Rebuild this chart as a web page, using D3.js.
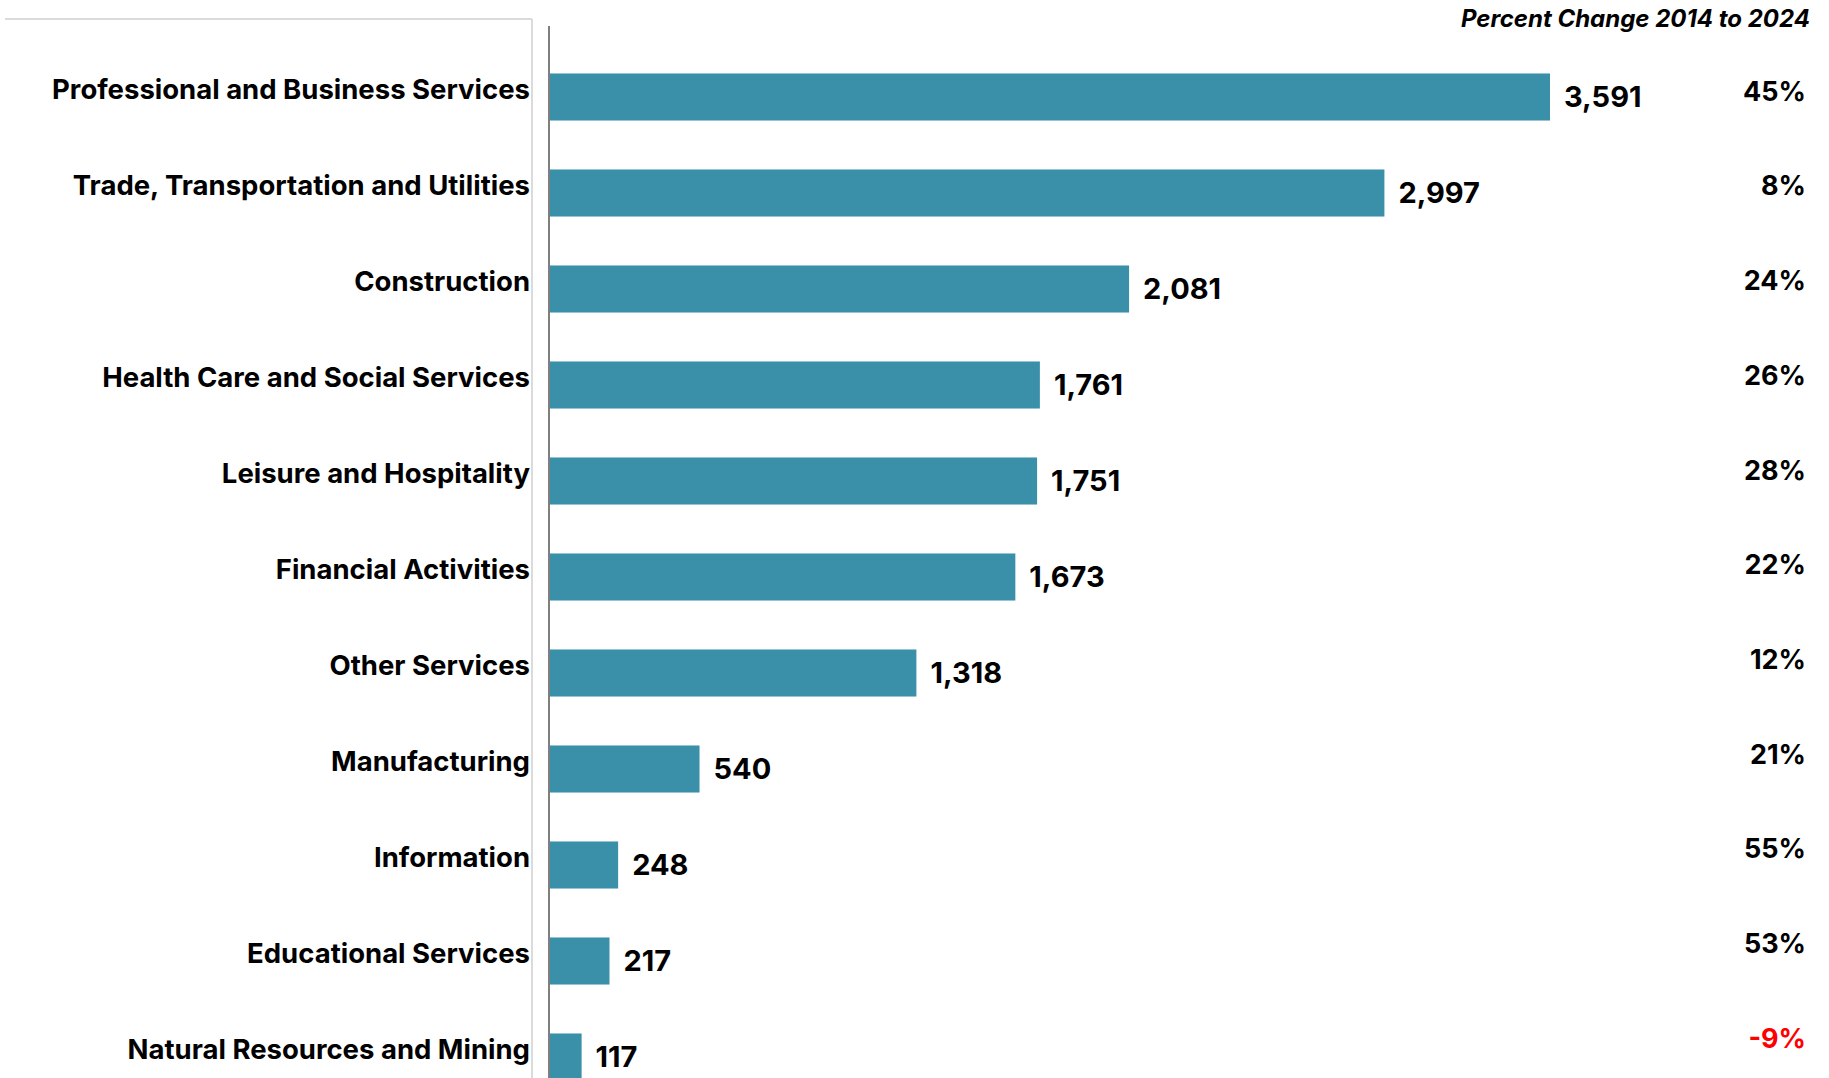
<!DOCTYPE html>
<html>
<head>
<meta charset="utf-8">
<script src="https://cdn.jsdelivr.net/npm/d3@7"></script>
<style>
  body { margin: 0; background: #fff; }
  svg { display: block; }
</style>
</head>
<body>
<div id="chart"></div>
<script>
// industries, top to bottom
var categories = [
  "Professional and Business Services",
  "Trade, Transportation and Utilities",
  "Construction",
  "Health Care and Social Services",
  "Leisure and Hospitality",
  "Financial Activities",
  "Other Services",
  "Manufacturing",
  "Information",
  "Educational Services",
  "Natural Resources and Mining"
];
var values = [3591, 2997, 2081, 1761, 1751, 1673, 1318, 540, 248, 217, 117];
var pctChange = [45, 8, 24, 26, 28, 22, 12, 21, 55, 53, -9];
var pctTitle = "Percent Change 2014 to 2024";

var width = 1829, height = 1078;

var svg = d3.select("#chart").append("svg")
  .attr("width", width)
  .attr("height", height);

var x = d3.scaleLinear()
  .domain([0, 4000])
  .range([549, 1664]);

var y = d3.scaleBand()
  .domain(categories)
  .range([49, 1105])
  .paddingInner(0.51)
  .paddingOuter(0.255);

// percent column has its own spacing
var yPct = d3.scalePoint()
  .domain(categories)
  .range([91, 1038]);

// light frame of the label table
svg.append("line")
  .attr("x1", 5).attr("x2", 532)
  .attr("y1", 19).attr("y2", 19)
  .attr("stroke", "#cfcfcf").attr("stroke-width", 1.5);
svg.append("line")
  .attr("x1", 532).attr("x2", 532)
  .attr("y1", 19).attr("y2", height)
  .attr("stroke", "#cfcfcf").attr("stroke-width", 1.5);

// bars
svg.selectAll("rect.bar")
  .data(values)
  .enter().append("rect")
  .attr("class", "bar")
  .attr("x", x(0))
  .attr("y", function(d, i) { return y(categories[i]); })
  .attr("width", function(d) { return x(d) - x(0); })
  .attr("height", y.bandwidth())
  .attr("fill", "#3a8fa9");

// axis line
svg.append("line")
  .attr("x1", x(0)).attr("x2", x(0))
  .attr("y1", 26).attr("y2", height)
  .attr("stroke", "#7f7f7f").attr("stroke-width", 2);

// category labels
svg.selectAll("text.cat")
  .data(categories)
  .enter().append("text")
  .attr("class", "cat")
  .attr("x", 530)
  .attr("y", function(d) { return y(d) + y.bandwidth() / 2 - 8; })
  .attr("dy", "0.35em")
  .attr("text-anchor", "end")
  .style("font-family", "Inter, sans-serif")
  .style("font-weight", 700)
  .style("font-size", "27.5px")
  .style("fill", "#000")
  .text(function(d) { return d; });

// value labels
svg.selectAll("text.val")
  .data(values)
  .enter().append("text")
  .attr("class", "val")
  .attr("x", function(d) { return x(d) + 14; })
  .attr("y", function(d, i) { return y(categories[i]) + y.bandwidth() / 2; })
  .attr("dy", "0.36em")
  .style("font-family", "Inter, sans-serif")
  .style("font-weight", 700)
  .style("font-size", "29px")
  .style("fill", "#000")
  .text(function(d) { return d3.format(",")(d); });

// percent change column
svg.append("text")
  .attr("x", 1810)
  .attr("y", 19)
  .attr("dy", "0.35em")
  .attr("text-anchor", "end")
  .style("font-family", "Inter, sans-serif")
  .style("font-weight", 700)
  .style("font-style", "italic")
  .style("font-size", "24px")
  .style("fill", "#000")
  .text(pctTitle);

svg.selectAll("text.pct")
  .data(pctChange)
  .enter().append("text")
  .attr("class", "pct")
  .attr("x", 1806)
  .attr("y", function(d, i) { return yPct(categories[i]); })
  .attr("dy", "0.36em")
  .attr("text-anchor", "end")
  .style("font-family", "Inter, sans-serif")
  .style("font-weight", 700)
  .style("font-size", "27px")
  .style("fill", function(d) { return d < 0 ? "#ff0000" : "#000"; })
  .text(function(d) { return d + "%"; });
</script>
</body>
</html>
